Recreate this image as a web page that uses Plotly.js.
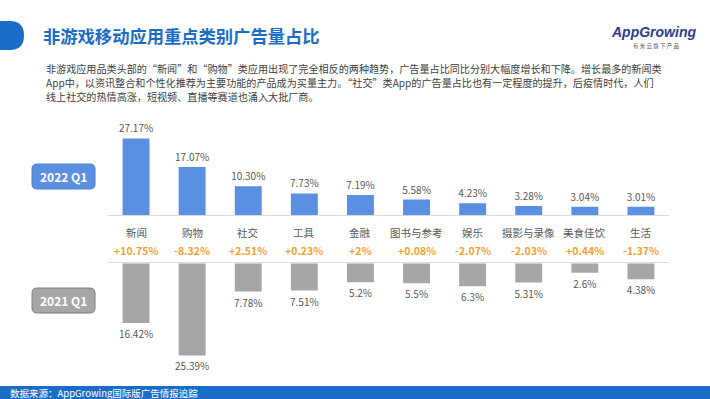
<!DOCTYPE html>
<html>
<head>
<meta charset="utf-8">
<script src="https://cdn.plot.ly/plotly-3.0.1.min.js"></script>
<style>
html,body{margin:0;padding:0;background:#fff;}
#chart{width:710px;height:399px;}
</style>
</head>
<body>
<div id="chart"></div>
<script>
// ---- data ----
const categories = ['新闻','购物','社交','工具','金融','图书与参考','娱乐','摄影与录像','美食佳饮','生活'];
const values2022 = [27.17,17.07,10.30,7.73,7.19,5.58,4.23,3.28,3.04,3.01];
const labels2022 = ['27.17%','17.07%','10.30%','7.73%','7.19%','5.58%','4.23%','3.28%','3.04%','3.01%'];
const values2021 = [16.42,25.39,7.78,7.51,5.2,5.5,6.3,5.31,2.6,4.38];
const labels2021 = ['16.42%','25.39%','7.78%','7.51%','5.2%','5.5%','6.3%','5.31%','2.6%','4.38%'];
const changes = ['+10.75%','-8.32%','+2.51%','+0.23%','+2%','+0.08%','-2.07%','-2.03%','+0.44%','-1.37%'];
const titleText = '非游戏移动应用重点类别广告量占比';
const paragraph = [
  '非游戏应用品类头部的“新闻”和“购物”类应用出现了完全相反的两种趋势，广告量占比同比分别大幅度增长和下降。增长最多的新闻类',
  'App中，以资讯整合和个性化推荐为主要功能的产品成为买量主力。“社交”类App的广告量占比也有一定程度的提升，后疫情时代，人们',
  '线上社交的热情高涨，短视频、直播等赛道也涌入大批厂商。'
];
const sourceText = '数据来源：AppGrowing国际版广告情报追踪';

// ---- layout helpers ----
const W = 710, H = 399;
const fx = px => px / W;
const fy = px => 1 - px / H;
const FONT = '"Noto Sans CJK SC", "Noto Sans", sans-serif';
const idx = categories.map((_, i) => i);

const traces = [
  {
    type: 'bar', x: idx, y: values2022, xaxis: 'x', yaxis: 'y',
    marker: {color: '#5b8fe2'}, width: 0.48,
    text: labels2022, textposition: 'outside', cliponaxis: false, constraintext: 'none',
    textfont: {family: FONT, size: 10, color: '#595959'},
    hoverinfo: 'none'
  },
  {
    type: 'bar', x: idx, y: values2021, xaxis: 'x2', yaxis: 'y2',
    marker: {color: '#a6a6a6'}, width: 0.48,
    text: labels2021, textposition: 'outside', cliponaxis: false, constraintext: 'none',
    textfont: {family: FONT, size: 10, color: '#595959'},
    hoverinfo: 'none'
  }
];

const annotations = [];
// title
annotations.push({text: '<b>' + titleText + '</b>', xref: 'paper', yref: 'paper', x: fx(41), y: fy(35),
  xanchor: 'left', yanchor: 'middle', showarrow: false, font: {family: FONT, size: 17.3, color: '#1a6dc7'}});
// logo
annotations.push({text: '<b><i>AppGrowing</i></b>', xref: 'paper', yref: 'paper', x: fx(653), y: fy(32),
  xanchor: 'center', yanchor: 'middle', showarrow: false, font: {family: '"Liberation Sans", sans-serif', size: 14, color: '#2d3d8e'}});
annotations.push({text: '有 米 云 旗 下 产 品', xref: 'paper', yref: 'paper', x: fx(656), y: fy(45.5),
  xanchor: 'center', yanchor: 'middle', showarrow: false, font: {family: FONT, size: 5.5, color: '#555'}});
// paragraph
paragraph.forEach((line, i) => {
  annotations.push({text: line, xref: 'paper', yref: 'paper', x: fx(44), y: fy(68 + i * 14.5),
    xanchor: 'left', yanchor: 'middle', showarrow: false, font: {family: FONT, size: 10.1, color: '#404040'}});
});
// categories + changes
categories.forEach((c, i) => {
  annotations.push({text: c, xref: 'x', yref: 'paper', x: i, y: fy(232.5), xanchor: 'center', yanchor: 'middle',
    showarrow: false, font: {family: FONT, size: 10.5, color: '#595959'}});
  annotations.push({text: '<b>' + changes[i] + '</b>', xref: 'x', yref: 'paper', x: i, y: fy(250), xanchor: 'center', yanchor: 'middle',
    showarrow: false, font: {family: FONT, size: 10.5, color: '#f5a22d'}});
});
// period labels
annotations.push({text: '<b>2022 Q1</b>', xref: 'paper', yref: 'paper', x: fx(63.5), y: fy(176.5), xanchor: 'center', yanchor: 'middle',
  showarrow: false, font: {family: FONT, size: 12, color: '#ffffff'}});
annotations.push({text: '<b>2021 Q1</b>', xref: 'paper', yref: 'paper', x: fx(63.5), y: fy(300.5), xanchor: 'center', yanchor: 'middle',
  showarrow: false, font: {family: FONT, size: 12, color: '#ffffff'}});
// source
annotations.push({text: sourceText, xref: 'paper', yref: 'paper', x: fx(8), y: fy(393), xanchor: 'left', yanchor: 'middle',
  showarrow: false, font: {family: FONT, size: 9.5, color: '#ffffff'}});

const pathPaper = (x0, y0, x1, y1, r) => {
  const X = v => v / W, Y = v => 1 - v / H;
  return `M${X(x0+r)},${Y(y0)} L${X(x1-r)},${Y(y0)} Q${X(x1)},${Y(y0)} ${X(x1)},${Y(y0+r)} L${X(x1)},${Y(y1-r)} Q${X(x1)},${Y(y1)} ${X(x1-r)},${Y(y1)} L${X(x0+r)},${Y(y1)} Q${X(x0)},${Y(y1)} ${X(x0)},${Y(y1-r)} L${X(x0)},${Y(y0+r)} Q${X(x0)},${Y(y0)} ${X(x0+r)},${Y(y0)} Z`;
};

const shapes = [
  // title pill
  {type: 'path', xref: 'paper', yref: 'paper', layer: 'below',
   path: `M-0.02,${1 - 21/H} L${fx(10)},${1 - 21/H} Q${fx(24)},${1 - 21/H} ${fx(24)},${1 - 35.5/H} Q${fx(24)},${1 - 50/H} ${fx(10)},${1 - 50/H} L-0.02,${1 - 50/H} Z`,
   fillcolor: '#1a6dc7', line: {width: 0}},
  // footer bar
  {type: 'rect', xref: 'paper', yref: 'paper', x0: 0, x1: 1, y0: 0, y1: fy(386), fillcolor: '#1a6dc7', line: {width: 0}, layer: 'below'},
  {type: 'path', xref: 'paper', yref: 'paper', layer: 'below', path: pathPaper(32, 164, 95, 189, 5),
   fillcolor: '#5b8fe2', line: {width: 1, color: '#4f80d0'}},
  {type: 'path', xref: 'paper', yref: 'paper', layer: 'below', path: pathPaper(32, 288, 95, 313, 5),
   fillcolor: '#a6a6a6', line: {width: 1, color: '#7f7f7f'}}
];

const layout = {
  width: W, height: H,
  margin: {l: 0, r: 0, t: 0, b: 0},
  paper_bgcolor: '#ffffff', plot_bgcolor: 'rgba(0,0,0,0)',
  showlegend: false,
  xaxis: {domain: [fx(108), fx(669)], range: [-0.5, 9.5], anchor: 'y', showticklabels: false, ticks: '',
          showgrid: false, zeroline: false, showline: true, linecolor: '#dcdcdc', linewidth: 1, fixedrange: true},
  yaxis: {domain: [fy(215.3), fy(130.3)], range: [0, 85 / 2.83], showticklabels: false, showgrid: false, zeroline: false, fixedrange: true},
  xaxis2: {domain: [fx(108), fx(669)], range: [-0.5, 9.5], anchor: 'y2', side: 'top', showticklabels: false, ticks: '',
          showgrid: false, zeroline: false, showline: true, linecolor: '#dcdcdc', linewidth: 1, fixedrange: true},
  yaxis2: {domain: [fy(365), fy(263.3)], range: [101.7 / 3.63, 0], showticklabels: false, showgrid: false, zeroline: false, fixedrange: true},
  annotations: annotations,
  shapes: shapes,
  font: {family: FONT}
};

Plotly.newPlot('chart', traces, layout, {displayModeBar: false, staticPlot: true});
</script>
</body>
</html>
